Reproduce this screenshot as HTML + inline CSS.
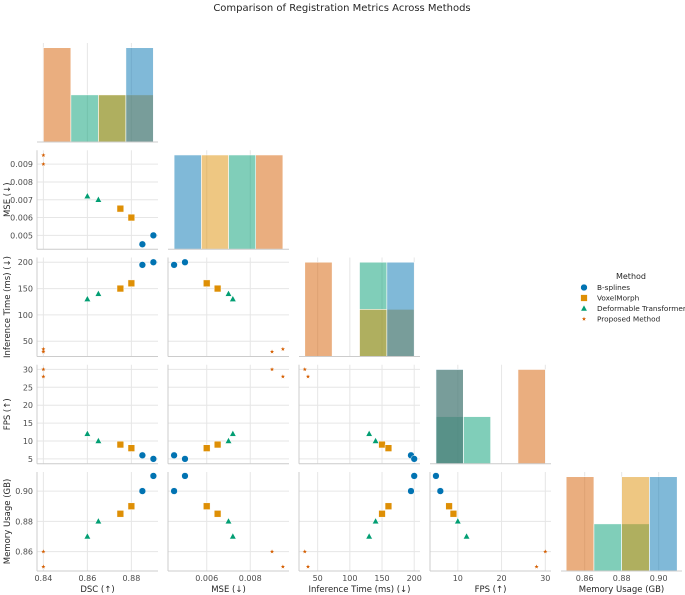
<!DOCTYPE html>
<html><head><meta charset="utf-8">
<style>
html,body{margin:0;padding:0;background:#fff;}
svg{display:block;font-family:"DejaVu Sans","Liberation Sans",sans-serif;}
</style></head>
<body>
<svg id="chart" width="685" height="595" viewBox="0 0 685 595">
<text x="342" y="11" text-anchor="middle" font-size="10" fill="#262626">Comparison of Registration Metrics Across Methods</text>
</svg>
<script>
// ---- data ----
const methods = ["B-splines","VoxelMorph","Deformable Transformer","Proposed Method"];
const variables = ["DSC (↑)","MSE (↓)","Inference Time (ms) (↓)","FPS (↑)","Memory Usage (GB)"];
const dscValues  = [[0.885,0.89],[0.875,0.88],[0.86,0.865],[0.84,0.84]];
const mseValues  = [[0.0045,0.005],[0.0065,0.006],[0.0072,0.007],[0.0095,0.009]];
const timeValues = [[195,200],[150,160],[130,140],[35,30]];
const fpsValues  = [[6,5],[9,8],[12,10],[28,30]];
const memValues  = [[0.90,0.91],[0.885,0.89],[0.87,0.88],[0.85,0.86]];
const dscTicks = [0.84,0.86,0.88];
const mseTicks = [0.005,0.006,0.007,0.008,0.009];
const mseXTicks = [0.006,0.008];
const timeTicks = [50,100,150,200];
const fpsTicks = [5,10,15,20,25,30];
const fpsXTicks = [10,20,30];
const memTicks = [0.86,0.88,0.90];
const tickLabels = {
  dsc:["0.84","0.86","0.88"], mse:["0.005","0.006","0.007","0.008","0.009"], msex:["0.006","0.008"],
  time:["50","100","150","200"], fps:["5","10","15","20","25","30"], fpsx:["10","20","30"], mem:["0.86","0.88","0.90"]
};

// ---- layout ----
const svg = document.getElementById('chart');
const NS = 'http://www.w3.org/2000/svg';
const colors = ["#0173b2","#de8f05","#029e73","#d55e00"];
const allVals = [dscValues,mseValues,timeValues,fpsValues,memValues];
const domains = [[0.8371,0.8921],[0.00422,0.00978],[21,209],[3.64,31.3],[0.8472,0.9126]];
const xTicksAll = [dscTicks,mseXTicks,timeTicks,fpsXTicks,memTicks];
const xTickLab = [tickLabels.dsc,tickLabels.msex,tickLabels.time,tickLabels.fpsx,tickLabels.mem];
const yTicksAll = [null,mseTicks,timeTicks,fpsTicks,memTicks];
const yTickLab = [null,tickLabels.mse,tickLabels.time,tickLabels.fps,tickLabels.mem];
const AW = 121, AH = 99;
function colLeft(c){return 37+131*c;}
function rowTop(r){return 43+107.25*r;}
function xs(c,v){const d=domains[c];return colLeft(c)+(v-d[0])/(d[1]-d[0])*AW;}
function ys(r,v){const d=domains[r];return rowTop(r)+(d[1]-v)/(d[1]-d[0])*AH;}
function el(tag,attrs,parent){const e=document.createElementNS(NS,tag);for(const k in attrs)e.setAttribute(k,attrs[k]);(parent||svg).appendChild(e);return e;}

function marker(g,m,x,y){
  let e;
  if(m===0){e=el('circle',{cx:x,cy:y,r:3.4,fill:colors[0],stroke:'#fff','stroke-width':0.5},g);}
  else if(m===1){e=el('rect',{x:x-3.4,y:y-3.4,width:6.8,height:6.8,fill:colors[1],stroke:'#fff','stroke-width':0.5},g);}
  else if(m===2){e=el('polygon',{points:`${x},${y-3.6} ${x+3.3},${y+2.5} ${x-3.3},${y+2.5}`,fill:colors[2],stroke:'#fff','stroke-width':0.5},g);}
  else {let p=[];for(let i=0;i<10;i++){const a=-Math.PI/2+i*Math.PI/5;const rr=i%2?0.9:2.2;p.push((x+rr*Math.cos(a)).toFixed(2)+','+(y+rr*Math.sin(a)).toFixed(2));}
    e=el('polygon',{points:p.join(' '),fill:colors[3]},g);}
  return e;
}

for(let r=0;r<5;r++){
  for(let c=0;c<=r;c++){
    const g=el('g',{});
    
    
    const L=colLeft(c),T=rowTop(r);
    xTicksAll[c].forEach(t=>{const x=xs(c,t);el('line',{x1:x,x2:x,y1:T,y2:T+AH,stroke:'#e6e6e6','stroke-width':1},g);});
    if(r!==c){
      yTicksAll[r].forEach(t=>{const y=ys(r,t);el('line',{x1:L,x2:L+AW,y1:y,y2:y,stroke:'#e6e6e6','stroke-width':1},g);});
      el('line',{x1:L,x2:L,y1:T,y2:T+AH,stroke:'#cccccc','stroke-width':1},g);
      for(let m=0;m<4;m++){
        for(let i=0;i<2;i++){
          const pt=marker(g,m,xs(c,allVals[c][m][i]),ys(r,allVals[r][m][i]));
          
          
        }
      }
    } else {
      const vals=allVals[c];let mn=Infinity,mx=-Infinity;
      vals.forEach(a=>a.forEach(v=>{mn=Math.min(mn,v);mx=Math.max(mx,v);}));
      const nb=4,w=(mx-mn)/nb;
      const hy=v=>T+AH-v/2.1*AH;
      for(let m=3;m>=0;m--){
        const cnt=[0,0,0,0];
        vals[m].forEach(v=>{let b=Math.floor((v-mn)/w+1e-9);if(b>=nb)b=nb-1;cnt[b]++;});
        cnt.forEach((n,b)=>{if(!n)return;
          const x0=xs(c,mn+b*w),x1=xs(c,mn+(b+1)*w);
          const bar=el('rect',{x:x0,y:hy(n),width:x1-x0,height:T+AH-hy(n),fill:colors[m],'fill-opacity':0.5,stroke:'#fff','stroke-width':0.6},g);
          
          
        });
      }
    }
    el('line',{x1:L,x2:L+AW,y1:T+AH,y2:T+AH,stroke:'#cccccc','stroke-width':1},g);
    if(c===0 && r>0){
      yTicksAll[r].forEach((t,i)=>{const tx=el('text',{x:L-4,y:ys(r,t)+3,'text-anchor':'end','font-size':8,fill:'#4d4d4d'},g);tx.textContent=yTickLab[r][i];
        });
      const yl=el('text',{x:0,y:0,transform:`translate(10,${T+AH/2}) rotate(-90)`,'text-anchor':'middle','font-size':8.5,fill:'#262626'},g);
      yl.textContent=variables[r];
      
    }
    if(r===4){
      xTicksAll[c].forEach((t,i)=>{const tx=el('text',{x:xs(c,t),y:T+AH+10,'text-anchor':'middle','font-size':8,fill:'#4d4d4d'},g);tx.textContent=xTickLab[c][i];
        });
      const xl=el('text',{x:L+AW/2,y:T+AH+21,'text-anchor':'middle','font-size':8.5,fill:'#262626'},g);
      xl.textContent=variables[c];
      
    }
  }
}
const lg=el('g',{});


const lt=el('text',{x:631,y:279,'text-anchor':'middle','font-size':8,fill:'#262626'},lg);
lt.textContent='Method';

methods.forEach((m,i)=>{
  const y=287+10.5*i;
  const mk=marker(lg,i,584,y+0.5);
  
  const t=el('text',{x:597,y:y+3,'font-size':7.3,fill:'#262626'},lg);
  t.textContent=m;
  
});
</script>
</body></html>
